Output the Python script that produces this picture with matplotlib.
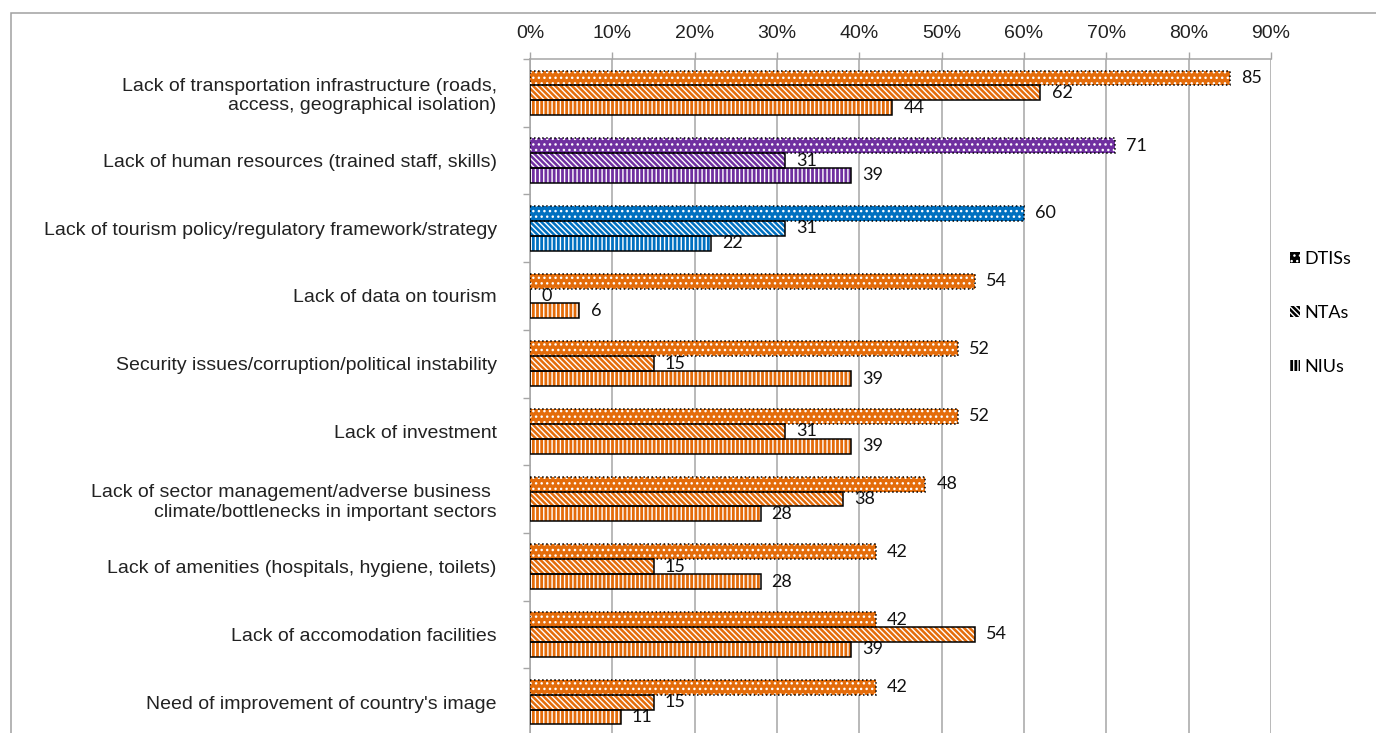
# Horizontal grouped bar chart of tourism constraints:

# Import libraries:
import numpy as np
import matplotlib.pyplot as plt
from matplotlib.patches import Patch, Rectangle

# Data:
categories = [
    "Lack of transportation infrastructure (roads,\naccess, geographical isolation)",
    "Lack of human resources (trained staff, skills)",
    "Lack of tourism policy/regulatory framework/strategy",
    "Lack of data on tourism",
    "Security issues/corruption/political instability",
    "Lack of investment",
    "Lack of sector management/adverse business \nclimate/bottlenecks in important sectors",
    "Lack of amenities (hospitals, hygiene, toilets)",
    "Lack of accomodation facilities",
    "Need of improvement of country's image",
]
dtis = [85, 71, 60, 54, 52, 52, 48, 42, 42, 42]
ntas = [62, 31, 31, 0, 15, 31, 38, 15, 54, 15]
nius = [44, 39, 22, 6, 39, 39, 28, 28, 39, 11]
series_names = ["DTISs", "NTAs", "NIUs"]
xticks = [0, 10, 20, 30, 40, 50, 60, 70, 80, 90]

# Styles:
orange = "#E46C0A"
purple = "#7030A0"
blue = "#0070C0"
row_colors = [orange, purple, blue] + [orange] * 7
hatches = ["...", "\\\\\\\\\\\\", "||||"]
edge_styles = [":", "-", "-"]
bar_h = 0.22
offsets = [-bar_h, 0, bar_h]

plt.rcParams["hatch.linewidth"] = 1.0

fig = plt.figure(figsize=(13.76, 7.33), dpi=100)
ax = fig.add_axes([530 / 1376, 1 - 736 / 733, 741 / 1376, 677 / 733])

y = np.arange(len(categories))
for values, hatch, ls, off in zip([dtis, ntas, nius], hatches, edge_styles, offsets):
    # coloured bars with white pattern:
    ax.barh(y + off, values, height=bar_h, color=row_colors, edgecolor="white",
            hatch=hatch, linewidth=0, zorder=3)
    # black outline on top:
    bars = ax.barh(y + off, values, height=bar_h, fill=False, edgecolor="black",
                   linewidth=1.1, linestyle=ls, zorder=4)
    ax.bar_label(bars, labels=[str(v) for v in values], padding=8,
                 fontsize=13, family="Lato", color="#111111")

# Axes setup:
ax.set_xlim(0, 90)
ax.set_ylim(len(categories) - 0.5, -0.5)
ax.xaxis.tick_top()
ax.set_xticks(xticks)
ax.set_xticklabels([f"{t}%" for t in xticks], fontsize=14, family="Liberation Sans")
ax.tick_params(axis="x", length=5, width=1, color="#A6A6A6", pad=7,
               labelcolor="#222222")
ax.set_yticks(y)
ax.set_yticklabels(categories, fontsize=14, family="Liberation Sans", color="#222222")
ax.set_yticks([-0.5] + list(np.arange(len(categories)) + 0.5), minor=True)
ax.tick_params(axis="y", which="major", length=0, pad=24)
ax.tick_params(axis="y", which="minor", length=5, width=1, color="#A6A6A6")
ax.grid(axis="x", color="#A6A6A6", linewidth=1.1, zorder=0)
ax.set_axisbelow(True)
for side in ["right", "bottom"]:
    ax.spines[side].set_visible(False)
for side in ["top", "left"]:
    ax.spines[side].set_color("#A6A6A6")
    ax.spines[side].set_linewidth(1.1)

# Legend:
handles = [Patch(facecolor="black", edgecolor="white", hatch=h, linewidth=0)
           for h in hatches]
fig.legend(handles, series_names, loc="center left",
           bbox_to_anchor=(1274 / 1376, 1 - 313 / 733), frameon=False,
           prop={"family": "Lato", "size": 13}, labelspacing=2.1,
           handlelength=0.55, handleheight=0.55, handletextpad=0.25)

# Outer chart border:
fig.patches.append(Rectangle((11 / 1376, -0.1), 1.2, 1.1 - 13 / 733,
                             transform=fig.transFigure, fill=False,
                             edgecolor="#A0A0A0", linewidth=1.1))

plt.savefig("out.png", dpi=100)
